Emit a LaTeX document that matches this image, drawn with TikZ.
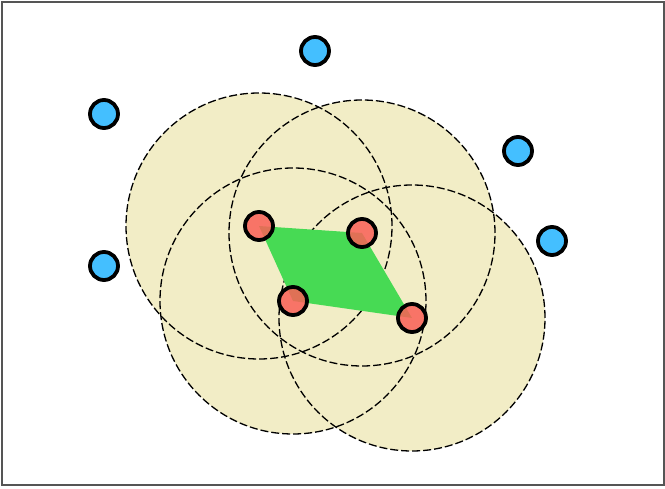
\documentclass[tikz,border=0pt]{standalone}
\definecolor{beige}{HTML}{F2EDC6}
\definecolor{hullgreen}{HTML}{47DA54}
\definecolor{ptred}{HTML}{FA5F57}
\definecolor{ptblue}{HTML}{44BFFF}
\definecolor{framegray}{HTML}{555555}
\tikzset{
  disk/.style={circle, minimum size=266pt, inner sep=0pt, fill=beige},
  diskrim/.style={circle, minimum size=266pt, inner sep=0pt, draw=black, line width=1.3pt, dash pattern=on 8pt off 3pt},
  redpt/.style={circle, minimum size=28pt, inner sep=0pt, fill=ptred, fill opacity=0.85, draw=black, draw opacity=1, line width=3.8pt},
  bluept/.style={circle, minimum size=28pt, inner sep=0pt, fill=ptblue, draw=black, line width=3.8pt},
}
\begin{document}
\begin{tikzpicture}[x=1pt,y=-1pt]
\useasboundingbox (0,0) rectangle (665,489);
\fill[white] (0,0) rectangle (665,489);
\draw[framegray, line width=1.3pt] (2,2) rectangle (664,485);
% coordinates of centres
\coordinate (c1) at (259,226);
\coordinate (c2) at (362,233);
\coordinate (c3) at (293,301);
\coordinate (c4) at (412,318);
% disk fills
\foreach \c in {c1,c2,c3,c4} \node[disk] at (\c) {};
% disk rims
\foreach \c in {c1,c2,c3,c4} \node[diskrim] at (\c) {};
% hull
\fill[hullgreen] (c1) -- (c2) -- (c4) -- (c3) -- cycle;
% red points
\node[redpt] (r1) at (c1) {};
\node[redpt] (r2) at (c2) {};
\node[redpt] (r3) at (c3) {};
\node[redpt] (r4) at (c4) {};
% blue points
\node[bluept] (b1) at (315,51) {};
\node[bluept] (b2) at (104,114) {};
\node[bluept] (b3) at (518,151) {};
\node[bluept] (b4) at (104,266) {};
\node[bluept] (b5) at (552,241) {};
\end{tikzpicture}
\end{document}
